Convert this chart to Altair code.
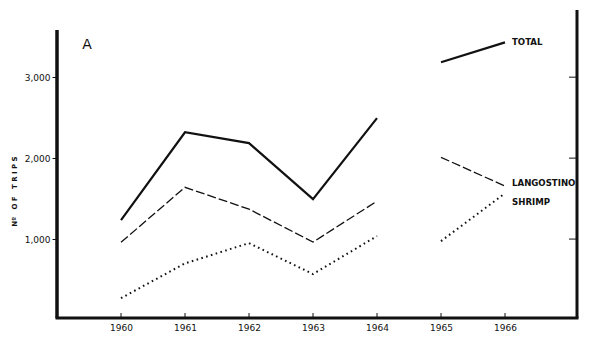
import altair as alt
import pandas as pd

years = [1960, 1961, 1962, 1963, 1964, 1965, 1966]
total = [1235, 2320, 2185, 1494, 2494, 3185, 3430]
langostino = [960, 1640, 1370, 963, 1469, 2010, 1655]
shrimp = [270, 700, 950, 568, 1037, 975, 1565]
segments = [1, 1, 1, 1, 1, 2, 2]
y_ticks = [1000, 2000, 3000]
series_names = ["TOTAL", "LANGOSTINO", "SHRIMP"]

rows = []
for name, vals in zip(series_names, [total, langostino, shrimp]):
    for yr, v, s in zip(years, vals, segments):
        rows.append({"year": yr, "trips": v, "series": name, "seg": s})
df = pd.DataFrame(rows)

INK = "#111111"
FONT = "DejaVu Sans"
NB = "\u00a0"
y_title = NB.join(["N\u00ba", NB, "O", "F", NB, "T", "R", "I", "P", "S"])

xs = alt.Scale(domain=[1959, 1967.125], nice=False, zero=False)
ys = alt.Scale(domain=[25, 3830], nice=False, zero=False)

x_axis = alt.Axis(values=years, format="d", domain=False, ticks=False, grid=False,
                  title=None, labelFontSize=9, labelPadding=5, labelFont=FONT,
                  labelColor=INK)
y_axis = alt.Axis(values=y_ticks, format=",d", domain=False, grid=False,
                  tickSize=5, tickWidth=1, tickColor=INK, labelPadding=2,
                  labelFontSize=9, labelFont=FONT, labelColor=INK,
                  title=y_title, titleFontSize=7, titleFont=FONT,
                  titleFontWeight="bold", titleColor=INK, titleX=-40, titleY=181)


def X(field):
    return alt.X(field, scale=xs, axis=x_axis)


def Y(field):
    return alt.Y(field, scale=ys, axis=y_axis)


base = alt.Chart(df)

total_line = base.transform_filter(alt.datum.series == "TOTAL").mark_line(
    color=INK, strokeWidth=2.2).encode(
    x=X("year:Q"), y=Y("trips:Q"), detail="seg:N")

lang_line = base.transform_filter(alt.datum.series == "LANGOSTINO").mark_line(
    color=INK, strokeWidth=1.3, strokeDash=[9, 3]).encode(
    x=X("year:Q"), y=Y("trips:Q"), detail="seg:N")

shrimp_line = base.transform_filter(alt.datum.series == "SHRIMP").mark_line(
    color=INK, strokeWidth=2, strokeDash=[1.6, 3.4]).encode(
    x=X("year:Q"), y=Y("trips:Q"), detail="seg:N")

last = df[df["year"] == years[-1]]


def label(name, dy):
    return alt.Chart(last[last["series"] == name]).mark_text(
        align="left", baseline="middle", dx=7, dy=dy, fontSize=8.6,
        fontWeight="bold", font=FONT, color=INK).encode(
        x=X("year:Q"), y=Y("trips:Q"), text="series:N")


lbl_total = label("TOTAL", 0)
lbl_lang = label("LANGOSTINO", -3)
lbl_shrimp = label("SHRIMP", 9)

panel = alt.Chart(pd.DataFrame({"t": ["A"]})).mark_text(
    fontSize=14, font=FONT, color=INK, align="center", baseline="middle").encode(
    text="t:N", x=alt.value(30), y=alt.value(35))

left_rule = alt.Chart(pd.DataFrame({"trips": [25], "top": [3583]})).mark_rule(
    color=INK, strokeWidth=3.5).encode(
    x=alt.value(0), y=Y("trips:Q"), y2="top:Q")

right_rule = alt.Chart(pd.DataFrame({"a": [0]})).mark_rule(
    color=INK, strokeWidth=3).encode(
    x=alt.value(520), y=alt.value(0), y2=alt.value(308))

bottom_rule = alt.Chart(pd.DataFrame({"a": [0]})).mark_rule(
    color=INK, strokeWidth=3).encode(
    x=alt.value(-1.5), x2=alt.value(521.5), y=alt.value(308))

right_ticks = alt.Chart(pd.DataFrame({"trips": y_ticks})).mark_rule(
    color=INK, strokeWidth=1).encode(
    y=Y("trips:Q"), x=alt.value(512), x2=alt.value(520))

bottom_ticks = alt.Chart(pd.DataFrame({"year": years})).mark_rule(
    color=INK, strokeWidth=1).encode(
    x=X("year:Q"), y=alt.value(303), y2=alt.value(308))

chart = alt.layer(
    total_line, lang_line, shrimp_line, lbl_total, lbl_lang, lbl_shrimp, panel,
    left_rule, right_rule, bottom_rule, right_ticks, bottom_ticks
).properties(
    width=520, height=308,
    autosize=alt.AutoSizeParams(type="none"),
    padding={"left": 57, "top": 10, "right": 23, "bottom": 34},
    background="white"
).configure_view(stroke=None)

chart.save("out.html", embed_options={"renderer": "svg", "actions": False})
